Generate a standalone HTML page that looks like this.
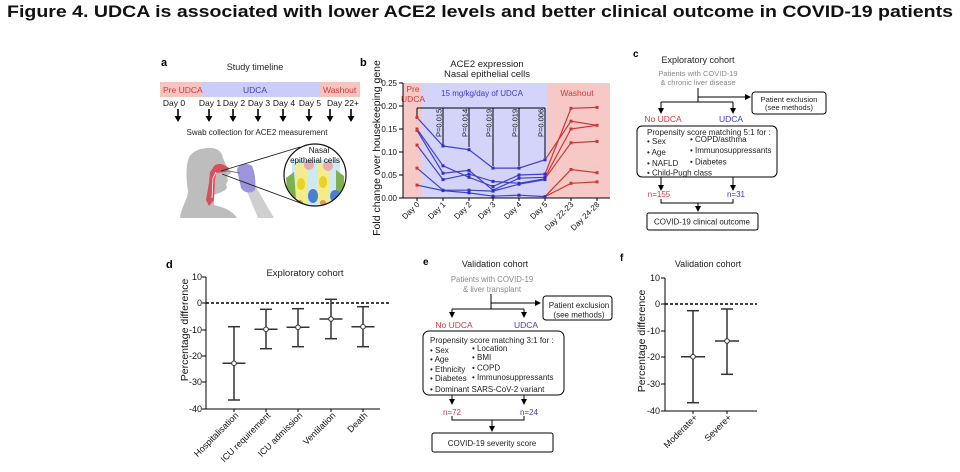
<!DOCTYPE html>
<html><head><meta charset="utf-8"><style>
html,body{margin:0;padding:0;background:#fff;}
svg{display:block;font-family:"Liberation Sans",Arial,sans-serif;}
</style></head><body>
<svg width="960" height="472" viewBox="0 0 960 472" xmlns="http://www.w3.org/2000/svg">
<defs>
<clipPath id="cc"><circle cx="315" cy="175" r="31"/></clipPath>
</defs>
<rect width="960" height="472" fill="#fff"/>
<text x="7" y="17" font-size="17" font-weight="bold" fill="#111" textLength="946" lengthAdjust="spacingAndGlyphs">Figure 4. UDCA is associated with lower ACE2 levels and better clinical outcome in COVID-19 patients</text>

<!-- ===== Panel a ===== -->
<text x="161" y="66" font-size="11" font-weight="bold">a</text>
<text x="255" y="70" font-size="9" text-anchor="middle" fill="#222">Study timeline</text>
<rect x="160" y="82" width="41" height="15" fill="#f5c4bf"/>
<rect x="201" y="82" width="118" height="15" fill="#ccccf8"/>
<rect x="319" y="82" width="41" height="15" fill="#f5c4bf"/>
<text x="163" y="93" font-size="8.5" fill="#d03a3a">Pre UDCA</text>
<text x="255" y="93" font-size="8.5" fill="#4040c8" text-anchor="middle">UDCA</text>
<text x="323" y="93" font-size="8.5" fill="#d03a3a">Washout</text>
<g font-size="8.5" fill="#111" text-anchor="middle">
<text x="174" y="106">Day 0</text><text x="210" y="106">Day 1</text><text x="234" y="106">Day 2</text><text x="259" y="106">Day 3</text><text x="284" y="106">Day 4</text><text x="310" y="106">Day 5</text><text x="343" y="106">Day 22+</text>
</g>
<g stroke="#000" stroke-width="1.6">
<line x1="178" y1="109" x2="178" y2="118"/><line x1="209" y1="109" x2="209" y2="118"/><line x1="233" y1="109" x2="233" y2="118"/><line x1="258" y1="109" x2="258" y2="118"/><line x1="283" y1="109" x2="283" y2="118"/><line x1="309" y1="109" x2="309" y2="118"/><line x1="330" y1="109" x2="330" y2="118"/><line x1="351" y1="109" x2="351" y2="118"/>
</g>
<g fill="#000">
<path d="M174.5,116 L181.5,116 L178,122 Z"/><path d="M205.5,116 L212.5,116 L209,122 Z"/><path d="M229.5,116 L236.5,116 L233,122 Z"/><path d="M254.5,116 L261.5,116 L258,122 Z"/><path d="M279.5,116 L286.5,116 L283,122 Z"/><path d="M305.5,116 L312.5,116 L309,122 Z"/><path d="M326.5,116 L333.5,116 L330,122 Z"/><path d="M347.5,116 L354.5,116 L351,122 Z"/>
</g>
<text x="257" y="135" font-size="8" text-anchor="middle" fill="#222">Swab collection for ACE2 measurement</text>
<!-- illustration -->
<path d="M180,218 C182,205 188,199 188,191 C186,180 186,168 188,160 C191,151 200,148 210,148 C218,148 222,152 223,158 L226,165 L231,173 L227,176 L228,181 L226,184 L227,188 C224,192 218,193 214,195 L214,205 C222,207 232,210 237,218 Z" fill="#bdbdbd"/>
<path d="M246,189 L256,187 L274,218 L258,218 Z" fill="#cfcfcf"/>
<path d="M237,170 C238,164 246,162 252,166 C255,172 256,182 255,190 C251,194 244,193 241,188 Z" fill="#9b95dc"/>
<path d="M213,168 C214,164 220,163 224,165 L229,168 L226,172 L216,173 L215,180 L214,200 L209,206 L206,200 L209,183 L210,172 Z" fill="#d4505a"/>
<path d="M216,172 L213,178 L212,198" stroke="#fff" stroke-width="0.8" fill="none"/>
<line x1="222" y1="170" x2="240" y2="173" stroke="#777" stroke-width="1"/>
<line x1="221" y1="171" x2="300" y2="147" stroke="#222" stroke-width="0.9"/>
<line x1="222" y1="174" x2="303" y2="204" stroke="#222" stroke-width="0.9"/>
<circle cx="315" cy="175" r="31" fill="#fff"/>
<g clip-path="url(#cc)">
<rect x="292" y="160" width="48" height="48" fill="#cdeaf2"/>
<rect x="296" y="163" width="11" height="40" fill="#f3ec8a"/>
<rect x="318" y="163" width="11" height="40" fill="#f3ec8a"/>
<ellipse cx="301" cy="184" rx="4" ry="6" fill="#e9d22a"/>
<ellipse cx="323" cy="182" rx="4" ry="6" fill="#e9d22a"/>
<circle cx="309" cy="165" r="5" fill="#e8a8b8"/>
<circle cx="328" cy="166" r="5" fill="#e8a8b8"/>
<path d="M286,178 L294,172 L296,200 L288,204 Z" fill="#7cb050"/>
<path d="M336,170 L344,176 L344,198 L336,200 Z" fill="#7cb050"/>
<ellipse cx="313" cy="196" rx="5" ry="7" fill="#4a7ed0"/>
<ellipse cx="335" cy="196" rx="5" ry="6" fill="#4a7ed0"/>
<circle cx="300" cy="203" r="3" fill="#d8956a"/>
<circle cx="323" cy="203" r="3" fill="#d8956a"/>
</g>
<circle cx="315" cy="175" r="31" fill="none" stroke="#111" stroke-width="1.2"/>
<text x="319" y="153" font-size="8" text-anchor="middle" fill="#111">Nasal</text>
<text x="315" y="163" font-size="8" text-anchor="middle" fill="#111">epithelial cells</text>

<!-- ===== Panel b ===== -->
<text x="360" y="66" font-size="11" font-weight="bold">b</text>
<text x="487" y="67" font-size="9.5" text-anchor="middle" fill="#222">ACE2 expression</text>
<text x="487" y="77" font-size="9.5" text-anchor="middle" fill="#222">Nasal epithelial cells</text>
<rect x="403" y="83" width="19" height="115" fill="#f6c9c6"/>
<rect x="422" y="83" width="125" height="115" fill="#d4d4fb"/>
<rect x="547" y="83" width="63" height="115" fill="#f6c9c6"/>
<text x="413" y="92" font-size="8.5" fill="#d03a3a" text-anchor="middle">Pre</text>
<text x="413" y="102" font-size="8.5" fill="#d03a3a" text-anchor="middle">UDCA</text>
<text x="482" y="96" font-size="8" fill="#3a3ad0" text-anchor="middle">15 mg/kg/day of UDCA</text>
<text x="577" y="96" font-size="8.5" fill="#d03a3a" text-anchor="middle">Washout</text>
<g stroke="#000" stroke-width="1">
<line x1="403" y1="83" x2="403" y2="198"/>
<line x1="403" y1="198" x2="610" y2="198"/>
<line x1="399" y1="83" x2="403" y2="83"/><line x1="399" y1="106" x2="403" y2="106"/><line x1="399" y1="129" x2="403" y2="129"/><line x1="399" y1="152" x2="403" y2="152"/><line x1="399" y1="175" x2="403" y2="175"/><line x1="399" y1="198" x2="403" y2="198"/>
<line x1="417" y1="198" x2="417" y2="201"/><line x1="443" y1="198" x2="443" y2="201"/><line x1="469" y1="198" x2="469" y2="201"/><line x1="493" y1="198" x2="493" y2="201"/><line x1="519" y1="198" x2="519" y2="201"/><line x1="545" y1="198" x2="545" y2="201"/><line x1="571" y1="198" x2="571" y2="201"/><line x1="597" y1="198" x2="597" y2="201"/>
</g>
<g font-size="8" text-anchor="end" fill="#111">
<text x="397" y="86">0.25</text><text x="397" y="109">0.20</text><text x="397" y="132">0.15</text><text x="397" y="155">0.10</text><text x="397" y="178">0.05</text><text x="397" y="201">0.00</text>
</g>
<text transform="translate(380,148) rotate(-90)" font-size="10.5" text-anchor="middle" fill="#111">Fold change over housekeeping gene</text>
<g font-size="8" text-anchor="end" fill="#111">
<text transform="translate(420,205) rotate(-45)">Day 0</text>
<text transform="translate(446,205) rotate(-45)">Day 1</text>
<text transform="translate(472,205) rotate(-45)">Day 2</text>
<text transform="translate(496,205) rotate(-45)">Day 3</text>
<text transform="translate(522,205) rotate(-45)">Day 4</text>
<text transform="translate(548,205) rotate(-45)">Day 5</text>
<text transform="translate(574,205) rotate(-45)">Day 22-23</text>
<text transform="translate(600,205) rotate(-45)">Day 24-28</text>
</g>
<!-- significance -->
<g stroke="#000" stroke-width="1">
<line x1="417" y1="108" x2="545" y2="108"/>
<line x1="417" y1="108" x2="417" y2="116"/>
<line x1="443" y1="108" x2="443" y2="145"/>
<line x1="469" y1="108" x2="469" y2="147"/>
<line x1="493" y1="108" x2="493" y2="166"/>
<line x1="519" y1="108" x2="519" y2="166"/>
<line x1="545" y1="108" x2="545" y2="158"/>
</g>
<g font-size="7.5" fill="#111">
<text transform="translate(441.5,137) rotate(-90)">P=0.015</text>
<text transform="translate(467.5,137) rotate(-90)">P=0.014</text>
<text transform="translate(491.5,137) rotate(-90)">P=0.019</text>
<text transform="translate(517.5,137) rotate(-90)">P=0.019</text>
<text transform="translate(543.5,137) rotate(-90)">P=0.006</text>
</g>
<!-- data lines -->
<g fill="none" stroke="#4040c8" stroke-width="1.2">
<polyline points="417,117.5 443,146 469,149.7 493,168.1 519,168.1 545,159.8"/>
<polyline points="417,129 443,165.8 469,177.3 493,186.5 519,175 545,174.1"/>
<polyline points="417,130.4 443,173.2 469,170.4 493,190.2 519,178.2 545,177.3"/>
<polyline points="417,145.1 443,179.6 469,174.1 493,181.4 519,183.3 545,178.7"/>
<polyline points="417,168.1 443,190.2 469,190.2 493,191.1 519,184.2 545,179.6"/>
<polyline points="417,185.1 443,190.6 469,192.9 493,196.2 519,195.2 545,196.6"/>
</g>
<g fill="none" stroke="#c83838" stroke-width="1.2">
<polyline points="545,159.8 571,121.2 597,125.3"/>
<polyline points="545,174.1 571,108.3 597,107.4"/>
<polyline points="545,177.3 571,129 597,125.3"/>
<polyline points="545,178.7 571,142.8 597,141.4"/>
<polyline points="545,196.6 571,169.5 597,172.7"/>
<polyline points="545,196.6 571,183.3 597,181.9"/>
</g>
<g fill="#c83838">
<rect x="415.5" y="116" width="3" height="3"/><rect x="415.5" y="127.5" width="3" height="3"/><rect x="415.5" y="129" width="3" height="3"/><rect x="415.5" y="143.6" width="3" height="3"/><rect x="415.5" y="166.6" width="3" height="3"/><rect x="415.5" y="183.6" width="3" height="3"/>
<rect x="569.5" y="119.7" width="3" height="3"/><rect x="569.5" y="106.8" width="3" height="3"/><rect x="569.5" y="127.5" width="3" height="3"/><rect x="569.5" y="141.3" width="3" height="3"/><rect x="569.5" y="168" width="3" height="3"/><rect x="569.5" y="181.8" width="3" height="3"/>
<rect x="595.5" y="123.8" width="3" height="3"/><rect x="595.5" y="105.9" width="3" height="3"/><rect x="595.5" y="139.9" width="3" height="3"/><rect x="595.5" y="171.2" width="3" height="3"/><rect x="595.5" y="180.4" width="3" height="3"/>
</g>
<g fill="#3030c0">
<rect x="441.5" y="144.5" width="3" height="3"/><rect x="441.5" y="164.3" width="3" height="3"/><rect x="441.5" y="171.7" width="3" height="3"/><rect x="441.5" y="178.1" width="3" height="3"/><rect x="441.5" y="188.7" width="3" height="3"/><rect x="441.5" y="189.1" width="3" height="3"/>
<rect x="467.5" y="148.2" width="3" height="3"/><rect x="467.5" y="175.8" width="3" height="3"/><rect x="467.5" y="168.9" width="3" height="3"/><rect x="467.5" y="172.6" width="3" height="3"/><rect x="467.5" y="188.7" width="3" height="3"/><rect x="467.5" y="191.4" width="3" height="3"/>
<rect x="491.5" y="166.6" width="3" height="3"/><rect x="491.5" y="185" width="3" height="3"/><rect x="491.5" y="188.7" width="3" height="3"/><rect x="491.5" y="179.9" width="3" height="3"/><rect x="491.5" y="189.6" width="3" height="3"/><rect x="491.5" y="194.7" width="3" height="3"/>
<rect x="517.5" y="166.6" width="3" height="3"/><rect x="517.5" y="173.5" width="3" height="3"/><rect x="517.5" y="176.7" width="3" height="3"/><rect x="517.5" y="181.8" width="3" height="3"/><rect x="517.5" y="182.7" width="3" height="3"/><rect x="517.5" y="193.7" width="3" height="3"/>
<rect x="543.5" y="158.3" width="3" height="3"/><rect x="543.5" y="172.6" width="3" height="3"/><rect x="543.5" y="175.8" width="3" height="3"/><rect x="543.5" y="177.2" width="3" height="3"/><rect x="543.5" y="178.1" width="3" height="3"/><rect x="543.5" y="195.1" width="3" height="3"/>
</g>

<!-- ===== Panel c ===== -->
<text x="633" y="57" font-size="10" font-weight="bold">c</text>
<text x="698" y="63" font-size="9" text-anchor="middle" fill="#222">Exploratory cohort</text>
<text x="698" y="76" font-size="7.5" text-anchor="middle" fill="#8a8a8a">Patients with COVID-19</text>
<text x="698" y="85" font-size="7.5" text-anchor="middle" fill="#8a8a8a">&amp; chronic liver disease</text>
<g stroke="#000" stroke-width="1" fill="none">
<line x1="698" y1="88" x2="698" y2="102"/>
<line x1="698" y1="97" x2="746" y2="97"/>
<line x1="661" y1="102" x2="733" y2="102"/>
<line x1="661" y1="102" x2="661" y2="109"/>
<line x1="733" y1="102" x2="733" y2="109"/>
<rect x="752" y="92" width="74" height="22" rx="3"/>
<rect x="637" y="126" width="140" height="51" rx="5"/>
<line x1="661" y1="177" x2="661" y2="186"/>
<line x1="733" y1="177" x2="733" y2="186"/>
<polyline points="661,199 661,203 733,203 733,199"/>
<line x1="698" y1="203" x2="698" y2="207"/>
<rect x="647" y="213" width="111" height="17" rx="2"/>
</g>
<g fill="#000">
<path d="M745,94 L751,97 L745,100 Z"/>
<path d="M658,108 L664,108 L661,114 Z"/>
<path d="M730,108 L736,108 L733,114 Z"/>
<path d="M658,185 L664,185 L661,191 Z"/>
<path d="M730,185 L736,185 L733,191 Z"/>
<path d="M695,206 L701,206 L698,212 Z"/>
</g>
<text x="789" y="102" font-size="7.5" text-anchor="middle" fill="#222">Patient exclusion</text>
<text x="789" y="110" font-size="7.5" text-anchor="middle" fill="#222">(see methods)</text>
<text x="663" y="122" font-size="8.5" text-anchor="middle" fill="#d03a3a">No UDCA</text>
<text x="731" y="122" font-size="8.5" text-anchor="middle" fill="#3a3ad0">UDCA</text>
<g font-size="8" fill="#222">
<text x="647" y="135">Propensity score matching 5:1 for :</text>
<text x="647" y="144">•  Sex</text>
<text x="647" y="155">•  Age</text>
<text x="647" y="166">•  NAFLD</text>
<text x="647" y="175.5">•  Child-Pugh class</text>
<text x="690" y="142">•  COPD/asthma</text>
<text x="690" y="153">•  Immunosuppressants</text>
<text x="690" y="164.5">•  Diabetes</text>
</g>
<text x="659" y="197" font-size="8" text-anchor="middle" fill="#d03a3a">n=155</text>
<text x="736" y="197" font-size="8" text-anchor="middle" fill="#3a3ad0">n=31</text>
<text x="702" y="224.5" font-size="8" text-anchor="middle" fill="#222">COVID-19 clinical outcome</text>

<!-- ===== Panel d ===== -->
<text x="166" y="268" font-size="11" font-weight="bold">d</text>
<text x="305" y="276" font-size="9.5" text-anchor="middle" fill="#222">Exploratory cohort</text>
<g stroke="#000" stroke-width="1">
<line x1="206" y1="277" x2="206" y2="409"/>
<line x1="206" y1="409" x2="380" y2="409"/>
<line x1="202" y1="277" x2="206" y2="277"/><line x1="202" y1="303" x2="206" y2="303"/><line x1="202" y1="330" x2="206" y2="330"/><line x1="202" y1="356" x2="206" y2="356"/><line x1="202" y1="382" x2="206" y2="382"/><line x1="202" y1="409" x2="206" y2="409"/>
<line x1="234" y1="409" x2="234" y2="412"/><line x1="266" y1="409" x2="266" y2="412"/><line x1="298" y1="409" x2="298" y2="412"/><line x1="331" y1="409" x2="331" y2="412"/><line x1="363" y1="409" x2="363" y2="412"/>
</g>
<line x1="206" y1="303" x2="389" y2="303" stroke="#000" stroke-width="1.5" stroke-dasharray="3,2"/>
<g font-size="9" text-anchor="end" fill="#111">
<text x="202" y="280">10</text><text x="202" y="306">0</text><text x="202" y="333">-10</text><text x="202" y="359">-20</text><text x="202" y="385">-30</text><text x="202" y="412">-40</text>
</g>
<text transform="translate(188,330) rotate(-90)" font-size="10.5" text-anchor="middle" fill="#111">Percentage difference</text>
<g stroke="#333" stroke-width="1.5" fill="none">
<line x1="234" y1="326.7" x2="234" y2="400"/><line x1="228" y1="326.7" x2="240" y2="326.7"/><line x1="228" y1="400" x2="240" y2="400"/><line x1="222.5" y1="363.3" x2="245.5" y2="363.3"/>
<line x1="266" y1="309.3" x2="266" y2="348.7"/><line x1="260" y1="309.3" x2="272" y2="309.3"/><line x1="260" y1="348.7" x2="272" y2="348.7"/><line x1="254.5" y1="329.3" x2="277.5" y2="329.3"/>
<line x1="298" y1="308.7" x2="298" y2="346.7"/><line x1="292" y1="308.7" x2="304" y2="308.7"/><line x1="292" y1="346.7" x2="304" y2="346.7"/><line x1="286.5" y1="327.3" x2="309.5" y2="327.3"/>
<line x1="331" y1="299.3" x2="331" y2="338.7"/><line x1="325" y1="299.3" x2="337" y2="299.3"/><line x1="325" y1="338.7" x2="337" y2="338.7"/><line x1="319.5" y1="319" x2="342.5" y2="319"/>
<line x1="363" y1="306.7" x2="363" y2="346.7"/><line x1="357" y1="306.7" x2="369" y2="306.7"/><line x1="357" y1="346.7" x2="369" y2="346.7"/><line x1="351.5" y1="326.7" x2="374.5" y2="326.7"/>
</g>
<g fill="#fff" stroke="#333" stroke-width="1">
<circle cx="234" cy="363.3" r="2.3"/><circle cx="266" cy="329.3" r="2.3"/><circle cx="298" cy="327.3" r="2.3"/><circle cx="331" cy="319" r="2.3"/><circle cx="363" cy="326.7" r="2.3"/>
</g>
<g font-size="9" text-anchor="end" fill="#111">
<text transform="translate(239,416) rotate(-45)">Hospitalisation</text>
<text transform="translate(271,416) rotate(-45)">ICU requirement</text>
<text transform="translate(303,416) rotate(-45)">ICU admission</text>
<text transform="translate(336,416) rotate(-45)">Ventilation</text>
<text transform="translate(368,416) rotate(-45)">Death</text>
</g>

<!-- ===== Panel e ===== -->
<text x="423" y="265" font-size="10" font-weight="bold">e</text>
<text x="495" y="267" font-size="9" text-anchor="middle" fill="#222">Validation cohort</text>
<text x="492" y="282" font-size="7.8" text-anchor="middle" fill="#8a8a8a">Patients with COVID-19</text>
<text x="492" y="292" font-size="7.8" text-anchor="middle" fill="#8a8a8a">&amp; liver transplant</text>
<g stroke="#000" stroke-width="1" fill="none">
<line x1="491" y1="294" x2="491" y2="309"/>
<line x1="491" y1="303" x2="536" y2="303"/>
<line x1="452" y1="309" x2="524" y2="309"/>
<line x1="452" y1="309" x2="452" y2="313"/>
<line x1="524" y1="309" x2="524" y2="313"/>
<rect x="543" y="296" width="69" height="24" rx="3"/>
<rect x="423" y="331" width="141" height="64" rx="6"/>
<line x1="452" y1="395" x2="452" y2="400"/>
<line x1="524" y1="395" x2="524" y2="400"/>
<polyline points="452,416 452,420 524,420 524,416"/>
<line x1="492" y1="420" x2="492" y2="427"/>
<rect x="432" y="433" width="121" height="19" rx="2"/>
</g>
<g fill="#000">
<path d="M535,300 L541,303 L535,306 Z"/>
<path d="M449,312 L455,312 L452,318 Z"/>
<path d="M521,312 L527,312 L524,318 Z"/>
<path d="M449,399 L455,399 L452,405 Z"/>
<path d="M521,399 L527,399 L524,405 Z"/>
<path d="M489,426 L495,426 L492,432 Z"/>
</g>
<text x="579" y="308" font-size="8" text-anchor="middle" fill="#222">Patient exclusion</text>
<text x="579" y="317.5" font-size="8" text-anchor="middle" fill="#222">(see methods)</text>
<text x="454" y="328" font-size="8.5" text-anchor="middle" fill="#d03a3a">No UDCA</text>
<text x="526" y="328" font-size="8.5" text-anchor="middle" fill="#3a3ad0">UDCA</text>
<g font-size="8" fill="#222">
<text x="430" y="343">Propensity score matching 3:1 for :</text>
<text x="430" y="353">•  Sex</text>
<text x="430" y="362">•  Age</text>
<text x="430" y="372">•  Ethnicity</text>
<text x="430" y="381">•  Diabetes</text>
<text x="430" y="392">•  Dominant SARS-CoV-2 variant</text>
<text x="472" y="351">•  Location</text>
<text x="472" y="360">•  BMI</text>
<text x="472" y="370.5">•  COPD</text>
<text x="472" y="380">•  Immunosuppressants</text>
</g>
<text x="452" y="415" font-size="8" text-anchor="middle" fill="#d03a3a">n=72</text>
<text x="529" y="415" font-size="8" text-anchor="middle" fill="#3a3ad0">n=24</text>
<text x="492" y="446" font-size="8" text-anchor="middle" fill="#222">COVID-19 severity score</text>

<!-- ===== Panel f ===== -->
<text x="620" y="261" font-size="10" font-weight="bold">f</text>
<text x="708" y="267" font-size="9" text-anchor="middle" fill="#222">Validation cohort</text>
<g stroke="#000" stroke-width="1">
<line x1="665" y1="278" x2="665" y2="411"/>
<line x1="665" y1="411" x2="757" y2="411"/>
<line x1="661" y1="278" x2="665" y2="278"/><line x1="661" y1="304" x2="665" y2="304"/><line x1="661" y1="331" x2="665" y2="331"/><line x1="661" y1="357" x2="665" y2="357"/><line x1="661" y1="384" x2="665" y2="384"/><line x1="661" y1="411" x2="665" y2="411"/>
<line x1="693" y1="411" x2="693" y2="414"/><line x1="727" y1="411" x2="727" y2="414"/>
</g>
<line x1="665" y1="304" x2="757" y2="304" stroke="#000" stroke-width="1.5" stroke-dasharray="3,2"/>
<g font-size="9" text-anchor="end" fill="#111">
<text x="660" y="281">10</text><text x="660" y="307">0</text><text x="660" y="334">-10</text><text x="660" y="360">-20</text><text x="660" y="387">-30</text><text x="660" y="414">-40</text>
</g>
<text transform="translate(645,341) rotate(-90)" font-size="10.5" text-anchor="middle" fill="#111">Percentage difference</text>
<g stroke="#333" stroke-width="1.5" fill="none">
<line x1="693" y1="310.7" x2="693" y2="402.7"/><line x1="687" y1="310.7" x2="699" y2="310.7"/><line x1="687" y1="402.7" x2="699" y2="402.7"/><line x1="681" y1="356.7" x2="705" y2="356.7"/>
<line x1="727" y1="309" x2="727" y2="374.3"/><line x1="721" y1="309" x2="733" y2="309"/><line x1="721" y1="374.3" x2="733" y2="374.3"/><line x1="715" y1="341" x2="739" y2="341"/>
</g>
<g fill="#fff" stroke="#333" stroke-width="1">
<circle cx="693" cy="356.7" r="2.3"/><circle cx="727" cy="341" r="2.3"/>
</g>
<g font-size="9" text-anchor="end" fill="#111">
<text transform="translate(698,418) rotate(-45)">Moderate+</text>
<text transform="translate(732,418) rotate(-45)">Severe+</text>
</g>
</svg>
</body></html>
